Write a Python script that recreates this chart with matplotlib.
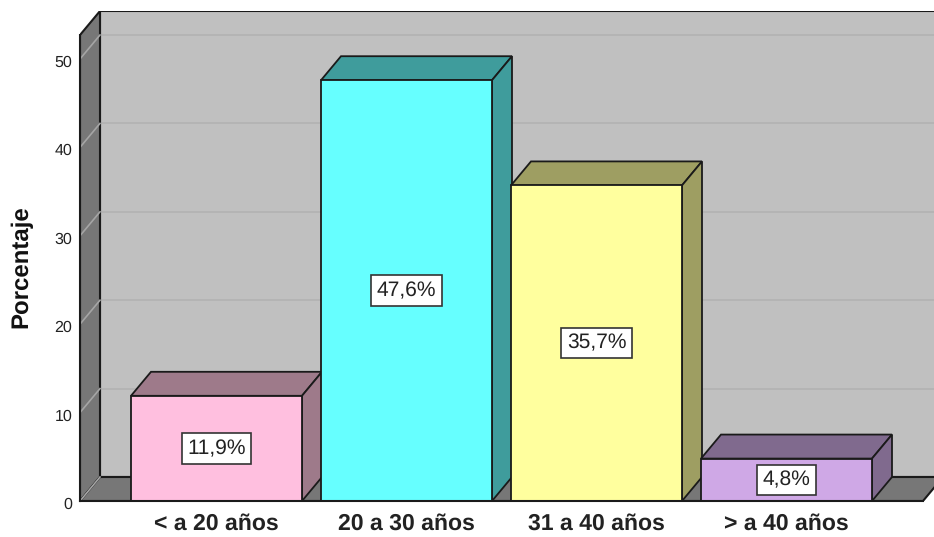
import matplotlib
matplotlib.use('Agg')
import matplotlib.pyplot as plt
from matplotlib.patches import Polygon
from matplotlib.transforms import ScaledTranslation

plt.rcParams['font.family'] = ['Liberation Sans', 'DejaVu Sans']
plt.rcParams['text.hinting'] = 'no_hinting'
plt.rcParams['text.hinting_factor'] = 1

# Data
categories = ['< a 20 años', '20 a 30 años', '31 a 40 años', '> a 40 años']
percentages = [11.9, 47.6, 35.7, 4.8]
value_labels = ['11,9%', '47,6%', '35,7%', '4,8%']
yticks = [0, 10, 20, 30, 40, 50]

front_colors = ['#ffbfdf', '#66ffff', '#ffff9e', '#cfa8e6']
top_colors = ['#9e7a8a', '#3f9c9c', '#9e9e62', '#806a8e']

W, H = 934, 537
left_px, right_px, bottom_px, top_px = 80, 934, 501, 11
px_per_cat = 190.0
px_per_val = 8.84

fig = plt.figure(figsize=(W / 100, H / 100), dpi=100)
ax = fig.add_axes([left_px / W, 1 - bottom_px / H, (right_px - left_px) / W, (bottom_px - top_px) / H])

# x in category units, y in percent
ax.set_xlim((left_px - 216.5) / px_per_cat, (right_px - 216.5) / px_per_cat)
ax.set_ylim(0, (bottom_px - top_px) / px_per_val)

dx = 20 / px_per_cat
dy = 24 / px_per_val
bar_w = 171 / px_per_cat
x0, x1 = ax.get_xlim()
y_top = ax.get_ylim()[1]
edge = '#1a1a1a'

# back wall, left wall, floor
ax.add_patch(Polygon([(x0 + dx, dy), (x1 + 1, dy), (x1 + 1, y_top), (x0 + dx, y_top)], fc='#c0c0c0', ec=edge, lw=1.5, zorder=1))
ax.add_patch(Polygon([(x0, 0), (x0 + dx, dy), (x0 + dx, y_top), (x0, y_top - dy)], fc='#777777', ec=edge, lw=1.5, zorder=2))
floor_end = x0 + 843 / px_per_cat
ax.add_patch(Polygon([(x0, 0), (floor_end, 0), (floor_end + dx, dy), (x0 + dx, dy)], fc='#777777', ec=edge, lw=1.5, zorder=2))

# gridlines on the walls
for t in yticks:
    if t > 0:
        ax.plot([x0 + dx, x1], [t + dy, t + dy], color='#b2b2b2', lw=1.2, zorder=1.5)
    ax.plot([x0, x0 + dx], [t, t + dy], color='#a5a5a5', lw=1.2, zorder=3)

# bars, back to front
for i, v in enumerate(percentages):
    l = i - bar_w / 2
    r = i + bar_w / 2
    ax.add_patch(Polygon([(l, v), (r, v), (r + dx, v + dy), (l + dx, v + dy)], fc=top_colors[i], ec=edge, lw=1.3, zorder=4))
    ax.add_patch(Polygon([(r, 0), (r + dx, dy), (r + dx, v + dy), (r, v)], fc=top_colors[i], ec=edge, lw=1.3, zorder=4))
    ax.bar(i, v, width=bar_w, color=front_colors[i], edgecolor=edge, linewidth=1.3, zorder=5)
    ax.text(i, v / 2, value_labels[i], ha='center', va='center', fontsize=15.4, color='#222222', zorder=6,
            bbox=dict(boxstyle='square,pad=0.25', fc='white', ec='#333333', lw=1.2))

for s in ['top', 'right']:
    ax.spines[s].set_visible(False)
ax.spines['left'].set_color(edge)
ax.spines['bottom'].set_color(edge)
ax.spines['left'].set_linewidth(1.5)
ax.spines['bottom'].set_bounds(x0, floor_end)
ax.spines['bottom'].set_linewidth(1.5)
ax.spines['left'].set_bounds(0, y_top - dy)
ax.spines['left'].set_zorder(7)
ax.spines['bottom'].set_zorder(7)

ax.set_xticks(range(len(categories)))
ax.set_xticklabels(categories, fontsize=16.8, fontweight='bold', color='#222222')
ax.set_yticks(yticks)
ax.tick_params(axis='x', length=0, pad=9)
ax.tick_params(axis='y', length=0, pad=5.5, labelsize=11.5, labelcolor='#222222')
# the y labels sit a little under their gridlines
shift = ScaledTranslation(0, -2 / 100, fig.dpi_scale_trans)
for lab in ax.get_yticklabels():
    lab.set_transform(lab.get_transform() + shift)
ax.set_ylabel('Porcentaje', fontsize=17, fontweight='bold', color='#111111')
ax.yaxis.set_label_coords(-0.0555, 0.478)

fig.savefig('out.png', dpi=100)
